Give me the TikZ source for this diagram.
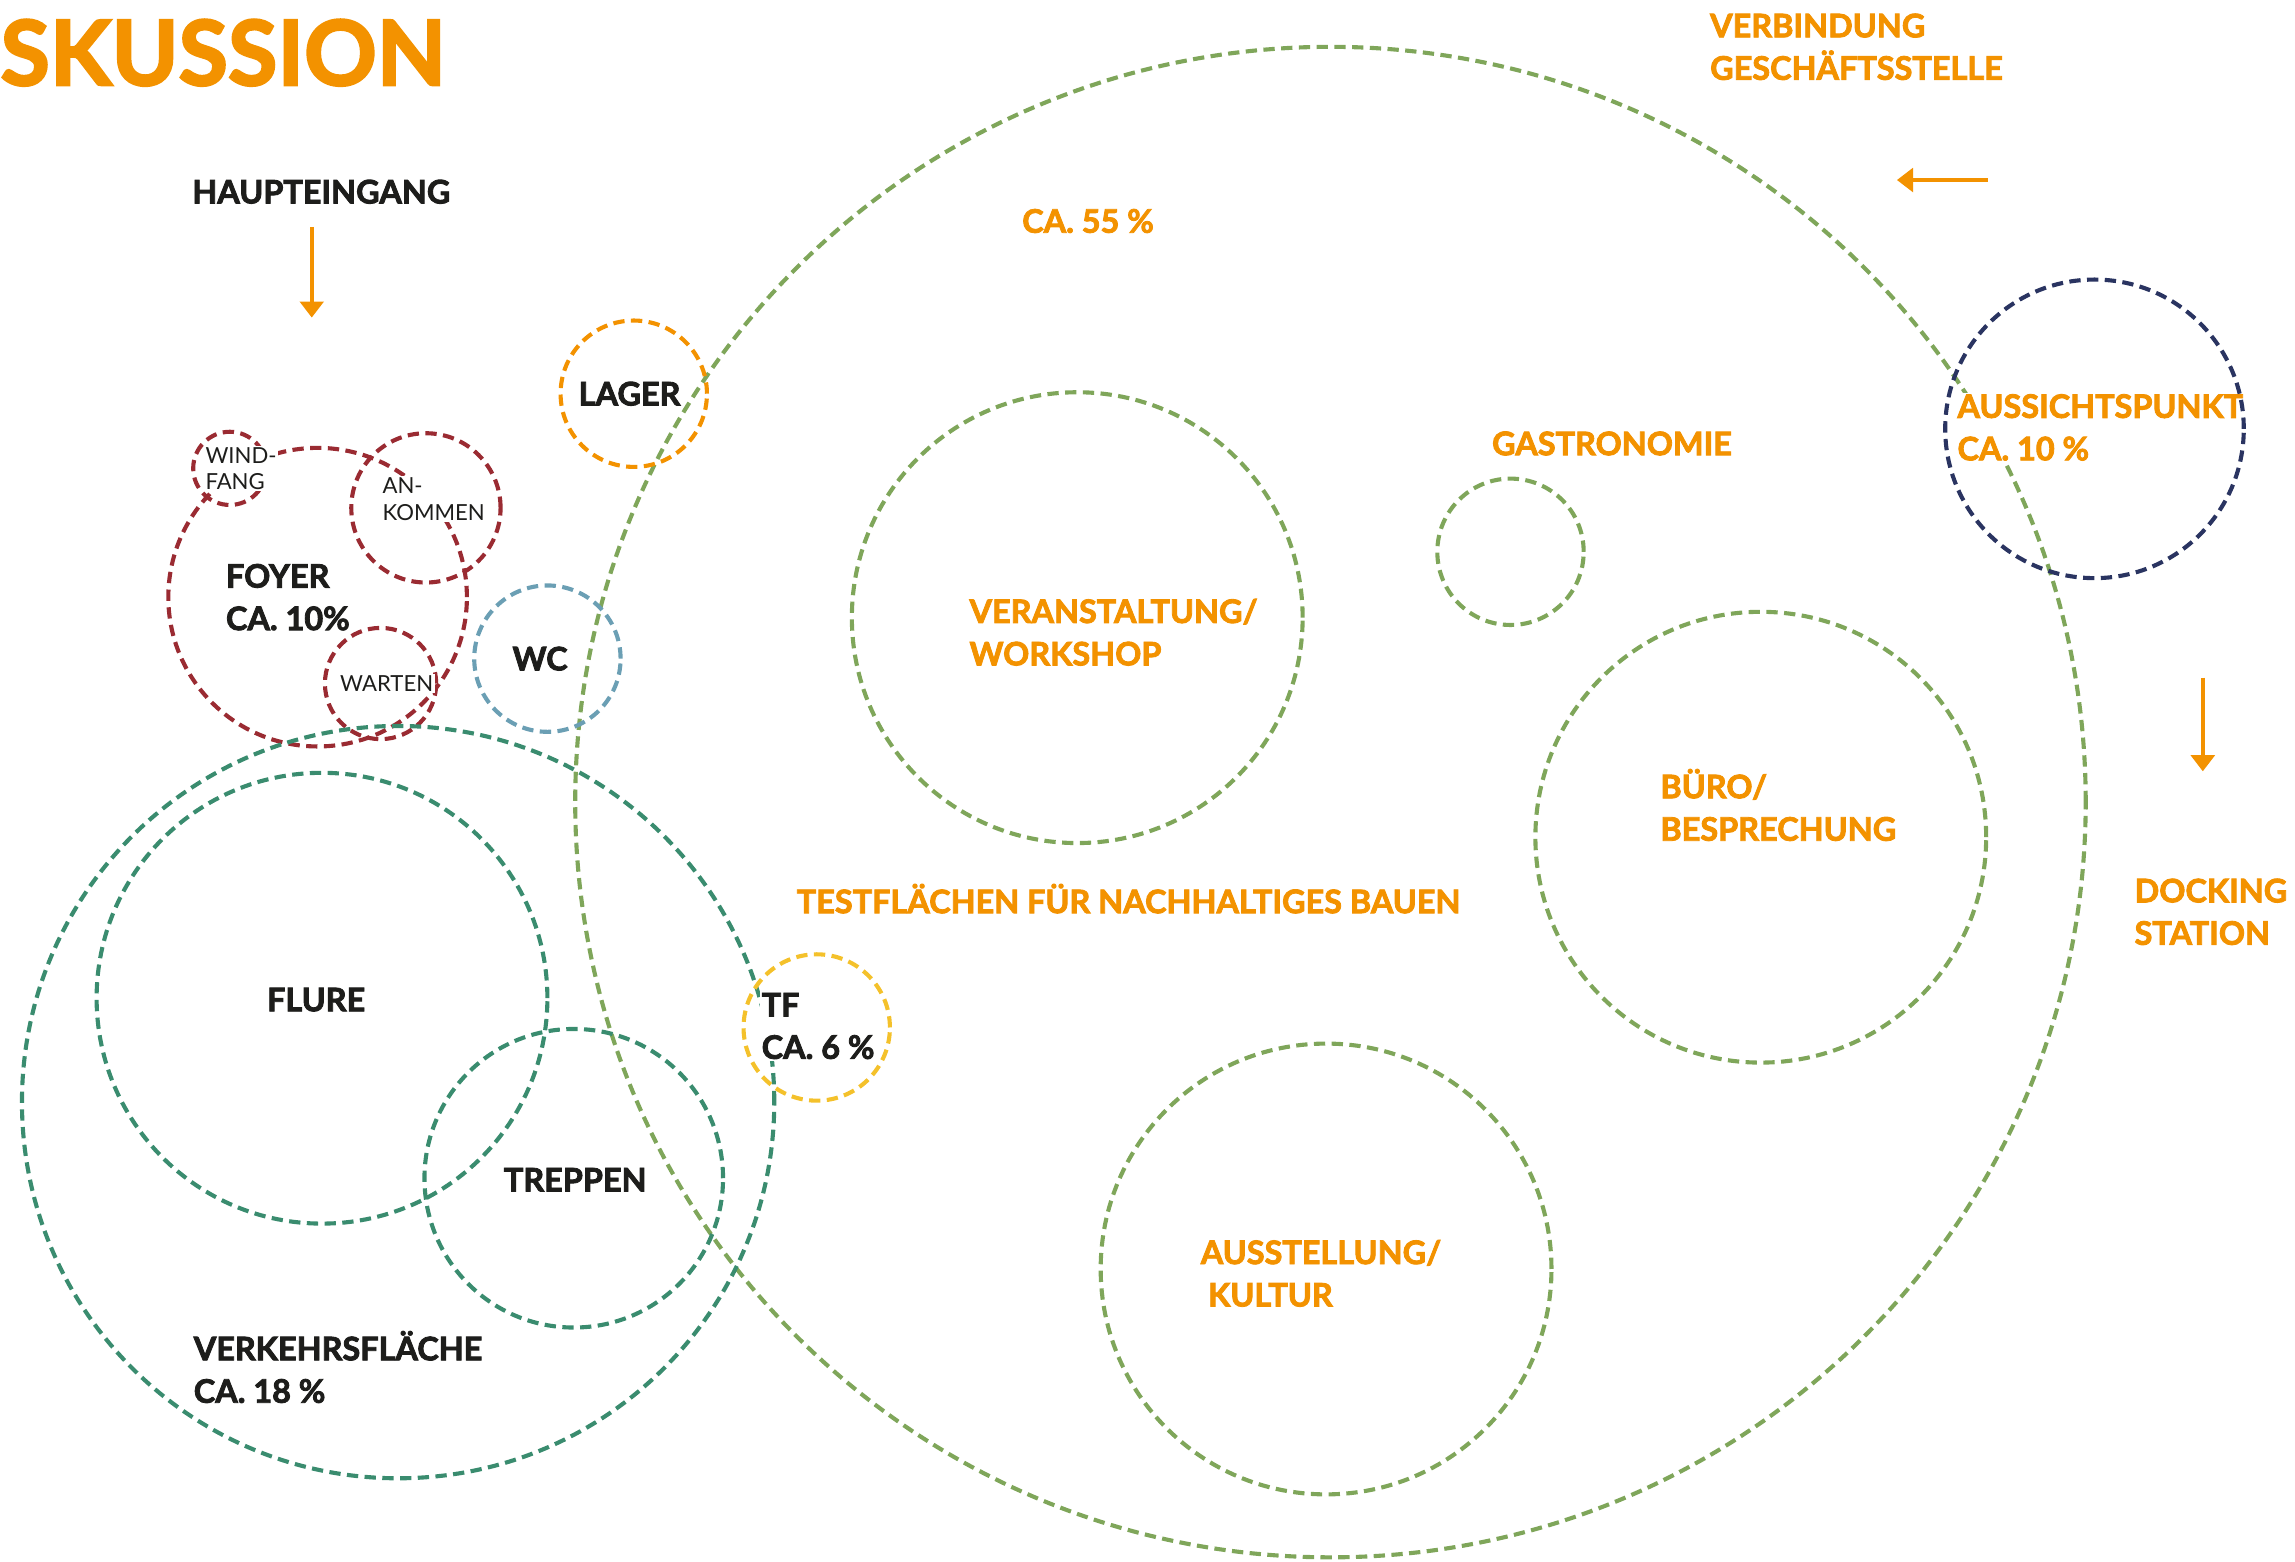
\documentclass[tikz,border=0pt]{standalone}
\usepackage{fontspec}
\setmainfont{Lato}[BoldFeatures={FakeBold=2.6}]
\usetikzlibrary{arrows.meta}
\definecolor{orng}{HTML}{F39200}
\definecolor{lgreen}{HTML}{7FA65A}
\definecolor{vkgreen}{HTML}{3A8C6F}
\definecolor{dkred}{HTML}{9A2B32}
\definecolor{wcblue}{HTML}{6B9FB4}
\definecolor{tfyellow}{HTML}{F4C12B}
\definecolor{navy}{HTML}{2A3461}
\definecolor{ink}{HTML}{1D1D1B}
\tikzset{
  bubble/.style={circle, draw=#1, inner sep=0pt, outer sep=0pt, line width=1.6pt, dash pattern=on 4.4pt off 2.5pt},
  lbl/.style={anchor=west, inner sep=0.6pt, fill=white, align=left, font=\fontsize{12.6}{16.5}\selectfont\bfseries},
  olbl/.style={lbl, text=orng},
  klbl/.style={lbl, text=ink},
  slbl/.style={anchor=west, inner sep=0.6pt, fill=white, align=left, text=ink, font=\fontsize{8.6}{10.2}\selectfont},
  flow/.style={draw=orng, line width=0.55mm, -{Triangle[width=3.2mm,length=2.2mm]}}
}
\newcommand{\bubble}[5]{\node[bubble=#2, minimum size=#5*0.4mm] (#1) at (#3,#4) {};}

\begin{document}
\begin{tikzpicture}[x=0.2mm, y=-0.2mm]
\useasboundingbox (0,0) rectangle (1568,1067);
\bubble{haus}{lgreen}{909}{548}{516}
\bubble{veranst}{lgreen}{736}{422}{154}
\bubble{gastro}{lgreen}{1032}{377}{50}
\bubble{buero}{lgreen}{1203}{572}{154}
\bubble{ausst}{lgreen}{906}{867}{154}
\bubble{lager}{orng}{433}{269}{50}
\bubble{windfang}{dkred}{157}{320}{25}
\bubble{foyer}{dkred}{217}{408}{102}
\bubble{ankommen}{dkred}{291}{347}{51}
\bubble{warten}{dkred}{260}{467}{38}
\bubble{wc}{wcblue}{374}{450}{50}
\bubble{verkehr}{vkgreen}{272}{753}{257}
\bubble{flure}{vkgreen}{220}{682}{154}
\bubble{treppen}{vkgreen}{392}{805}{102}
\bubble{tf}{tfyellow}{558}{702}{50}

\node[anchor=west, inner sep=0pt, text=orng, font=\fontsize{35}{40}\selectfont\bfseries] (titel) at (0,36) {SKUSSION};
\node[klbl] (haupt) at (130,131) {HAUPTEINGANG};
\node[olbl] (verb) at (1167,32) {VERBINDUNG\\GESCHÄFTSSTELLE};
\node[olbl] (anteil) at (697,151) {CA. 55 \%};
\node[klbl] (lagertxt) at (394,269) {LAGER};
\node[slbl] (windtxt) at (139,320) {WIND-\\FANG};
\node[slbl] (ankotxt) at (260,341) {AN-\\KOMMEN};
\node[klbl] (foyertxt) at (153,408) {FOYER\\CA. 10\%};
\node[slbl] (wartentxt) at (231,467) {WARTEN};
\node[klbl, anchor=center] (wctxt) at (369,450) {WC};
\node[olbl] (veranstxt) at (661,432) {VERANSTALTUNG/\\WORKSHOP};
\node[olbl] (gastrotxt) at (1018,303) {GASTRONOMIE};
\node[olbl] (aussichttxt) at (1336,292) {AUSSICHTSPUNKT\\CA. 10 \%};
\node[olbl] (buerotxt) at (1133,550) {BÜRO/\\BESPRECHUNG};
\node[olbl] (testtxt) at (543,614) {TESTFLÄCHEN FÜR NACHHALTIGES BAUEN};
\node[olbl] (docktxt) at (1457,623) {DOCKING\\STATION};
\node[klbl, anchor=center] (fluretxt) at (216,683) {FLURE};
\node[klbl] (tftxt) at (519,701) {TF\\CA. 6 \%};
\node[klbl, anchor=center] (treppentxt) at (393,806) {TREPPEN};
\node[olbl] (ausstxt) at (819,870) {AUSSTELLUNG/\\\hspace{1mm}KULTUR};
\node[klbl] (verkehrtxt) at (131,934) {VERKEHRSFLÄCHE\\CA. 18 \%};
\bubble{aussicht}{navy}{1431}{293}{102}

\coordinate (ein1) at (213,155);
\coordinate (ein2) at (213,217);
\coordinate (ges1) at (1358,123);
\coordinate (ges2) at (1296,123);
\coordinate (dock1) at (1505,463);
\coordinate (dock2) at (1505,527);
\draw[flow] (ein1) -- (ein2);
\draw[flow] (ges1) -- (ges2);
\draw[flow] (dock1) -- (dock2);
\end{tikzpicture}
\end{document}
